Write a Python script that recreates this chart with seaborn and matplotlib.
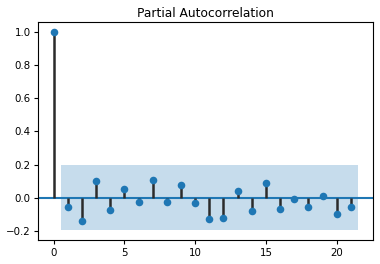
import numpy as np
import pandas as pd
import matplotlib
matplotlib.use("Agg")
import matplotlib.pyplot as plt
import seaborn as sns

lags = list(range(22))
pacf_values = [1.0, -0.056, -0.141, 0.100, -0.074, 0.052, -0.026, 0.107, -0.026,
               0.076, -0.032, -0.129, -0.123, 0.040, -0.080, 0.089, -0.068,
               -0.008, -0.056, 0.010, -0.099, -0.056]
conf_half_width = 0.196
xticks = [0, 5, 10, 15, 20]
yticks = [-0.2, 0.0, 0.2, 0.4, 0.6, 0.8, 1.0]
title = "Partial Autocorrelation"

df = pd.DataFrame({"lag": lags, "pacf": pacf_values})

plt.rcParams['font.family'] = ['DejaVu Sans']
fig = plt.figure(figsize=(3.8, 2.64), dpi=100)
ax = fig.add_axes([0.101, 0.091, 0.881, 0.8245])

ax.vlines(df["lag"], 0, df["pacf"], colors="#2b2b2b", linewidth=1.8, zorder=2)
sns.scatterplot(data=df, x="lag", y="pacf", ax=ax, color="C0", s=30,
                edgecolor="C0", linewidth=0, zorder=3)
ax.axhline(0, color="C0", linewidth=1.5, zorder=1)

band_x = np.array(lags[1:], dtype=float)
band_x[0] -= 0.5
band_x[-1] += 0.5
ax.fill_between(band_x, -conf_half_width, conf_half_width, color="C0",
                alpha=0.25, linewidth=0, zorder=0)

ax.set_xticks(xticks)
ax.set_yticks(yticks)
ax.set_yticklabels(["\u22120.2", "0.0", "0.2", "0.4", "0.6", "0.8", "1.0"])
ax.set_xlim(-1.075, 22.575)
ax.set_ylim(-0.256, 1.06)
ax.set_xlabel("")
ax.set_ylabel("")
ax.tick_params(labelsize=7.4, length=3, width=0.8, pad=2.5)
for sp in ax.spines.values():
    sp.set_linewidth(0.8)
ax.set_title(title, fontsize=8.8, pad=4)

fig.savefig("out.png", dpi=100)
